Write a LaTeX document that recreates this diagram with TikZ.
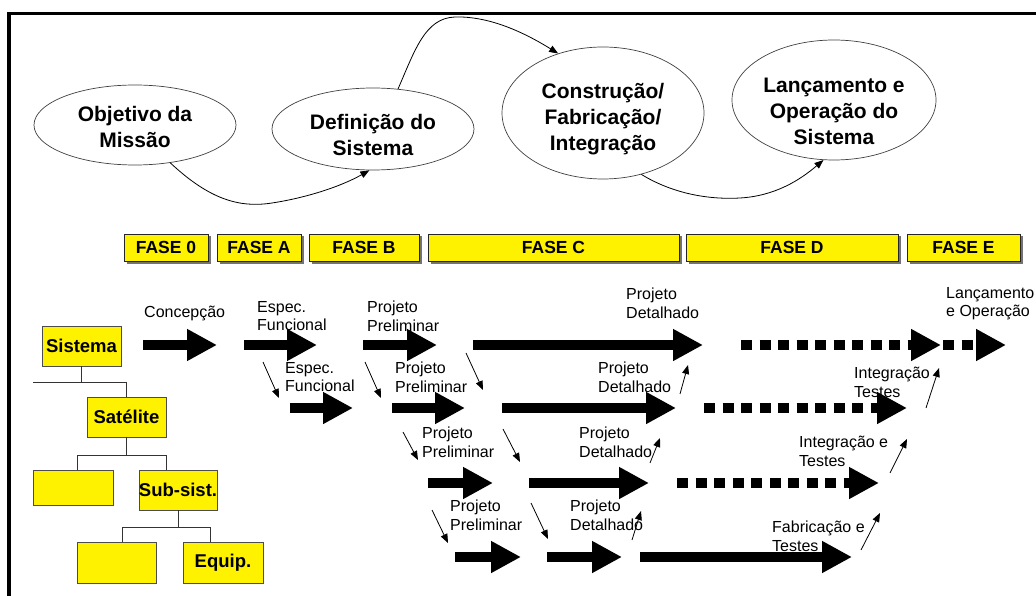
\documentclass[tikz,border=0pt]{standalone}
\usepackage{fontspec}
\setmainfont{Liberation Sans}
\usetikzlibrary{shapes.geometric,arrows.meta,shadows}
\begin{document}
\begin{tikzpicture}[x=1pt,y=-1pt,
  ell/.style={ellipse, draw=black!75, line width=0.7pt, inner sep=0},
  etxt/.style={inner sep=0, align=center, font=\bfseries\fontsize{21}{26}\selectfont},
  phase/.style={draw=black!85, line width=0.8pt, fill=yellow, minimum height=27pt, inner sep=0,
    font=\bfseries\fontsize{17.5}{20}\selectfont,
    drop shadow={shadow xshift=2.5pt, shadow yshift=-2.5pt, fill=black!55, opacity=1}},
  tbox/.style={draw=black!70, line width=0.7pt, fill=yellow, inner sep=0, font=\bfseries\fontsize{18.5}{22}\selectfont},
  lbl/.style={inner sep=0, align=left, anchor=north west, font=\fontsize{16}{18.5}\selectfont},
  big/.style={line width=10pt, -{Triangle[length=30pt,width=30pt]}},
  dots/.style={big, dash pattern=on 11pt off 7.5pt},
  thin/.style={line width=0.8pt, -{Triangle[length=9pt,width=7pt]}},
  tree/.style={line width=0.8pt, black!80},
]
\useasboundingbox (0,0) rectangle (1036,596);
% frame
\draw[line width=3.2pt] (9,596) -- (9,13.5) -- (1036,13.5);

% ellipses
\node[ell, minimum width=202pt, minimum height=80pt] (e1) at (135,125) {};
\node[ell, minimum width=202pt, minimum height=82pt] (e2) at (373,129) {};
\node[ell, minimum width=202pt, minimum height=132pt] (e3) at (603,113) {};
\node[ell, minimum width=204pt, minimum height=120pt] (e4) at (834,100) {};
\node[etxt] (e1t) at ([yshift=-2pt]e1.center) {Objetivo da\\Missão};
\node[etxt] (e2t) at ([yshift=-6pt]e2.center) {Definição do\\Sistema};
\node[etxt] (e3t) at ([yshift=-6pt]e3.center) {Construção/\\Fabricação/\\Integração};
\node[etxt] (e4t) at ([yshift=-11pt]e4.center) {Lançamento e\\Operação do\\Sistema};

\draw[thin] (e1.-47) .. controls (210,200) and (240,208) .. (272,203) .. controls (305,198) and (340,187) .. (e2.-95);
\draw[thin] (e2.58) .. controls (415,50) and (425,18) .. (455,17) .. controls (490,16) and (525,33) .. (e3.127);
\draw[thin] (e3.-58) .. controls (670,192) and (705,200) .. (740,198) .. controls (775,196) and (800,180) .. (e4.-100);

% phases
\node[phase, minimum width=84pt] (f0) at (166,247.5) {FASE 0};
\node[phase, minimum width=84pt] (fa) at (259,247.5) {FASE A};
\node[phase, minimum width=110pt] (fb) at (364,247.5) {FASE B};
\node[phase, minimum width=251pt] (fc) at (553.5,247.5) {FASE C};
\node[phase, minimum width=212pt] (fd) at (792,247.5) {FASE D};
\node[phase, minimum width=113pt] (fe) at (963.5,247.5) {FASE E};

% tree
\node[tbox, minimum width=79pt, minimum height=40pt] (sis) at (81.5,346) {Sistema};
\node[tbox, minimum width=79pt, minimum height=40pt] (sat) at (126.5,417) {Satélite};
\node[tbox, minimum width=80pt, minimum height=35pt] (b1) at (73,487.5) {};
\node[tbox, minimum width=78pt, minimum height=40pt] (sub) at (178,490) {Sub-sist.};
\node[tbox, minimum width=79pt, minimum height=41pt] (b3) at (116.5,562.5) {};
\node[tbox, minimum width=80pt, minimum height=41pt] (eq) at (223,562.5) {Equip.};
\coordinate (j1) at (33,382);
\coordinate (j2a) at (77,455);
\coordinate (j2b) at (166,455);
\coordinate (j3a) at (122,527);
\coordinate (j3b) at (210,527);
\draw[tree] (sis.south) -- (sis.south |- j1);
\draw[tree] (j1) -| (sat.north);
\draw[tree] (sat.south) -- (sat.south |- j2a);
\draw[tree] (b1.north -| j2a) |- (j2b) -- (sub.north -| j2b);
\draw[tree] (sub.south) -- (sub.south |- j3a);
\draw[tree] (b3.north -| j3a) |- (j3b) -- (eq.north -| j3b);

% block arrows
\foreach \n/\a/\b/\y in {a1/143/217/345, a2/244/317/345, a3/363/437/345, a4/473/703/345,
  b1/290/353/408, b2/392/465/408, b3/502/676/408,
  c1/428/493/483, c2/529/649/483,
  d1/455/521/557, d2/547/622/557, d3/640/852/557}{
  \coordinate (\n s) at (\a,\y);
  \coordinate (\n t) at (\b,\y);
  \draw[big] (\n s) -- (\n t);
}
\foreach \n/\a/\b/\y in {a5/741/941/345, a6/943/1006/345, b4/704/907/408, c3/677/879/483}{
  \coordinate (\n s) at (\a,\y);
  \coordinate (\n t) at (\b,\y);
  \draw[dots] (\n s) -- (\n t);
}

% labels
\node[lbl] (l1) at (144,306) {Concepção};
\node[lbl] (l2) at (257,301) {Espec.\\Funcional};
\node[lbl] (l3) at (367,301) {Projeto\\Preliminar};
\node[lbl] (l4) at (626,288) {Projeto\\Detalhado};
\node[lbl] (l5) at (946,287) {Lançamento\\e Operação};
\node[lbl] (l6) at (285,362) {Espec.\\Funcional};
\node[lbl] (l7) at (395,362) {Projeto\\Preliminar};
\node[lbl] (l8) at (598,362) {Projeto\\Detalhado};
\node[lbl] (l9) at (854,367) {Integração\\Testes};
\node[lbl] (l10) at (422,427) {Projeto\\Preliminar};
\node[lbl] (l11) at (579,427) {Projeto\\Detalhado};
\node[lbl] (l12) at (799,436) {Integração e\\Testes};
\node[lbl] (l13) at (450,500) {Projeto\\Preliminar};
\node[lbl] (l14) at (570,500) {Projeto\\Detalhado};
\node[lbl] (l15) at (772,521) {Fabricação e\\Testes};

% thin arrows
\foreach \n/\xa/\ya/\xb/\yb in {t1/263/362/279/398, t2/365/362/381/398, t3/466/353/483/390,
  t4/680/394/688/365, t5/926/408/939/368, t6/403/432/418/460, t7/503/429/520/462,
  t8/650/463/660/438, t9/890/473/907/439, t10/432/510/448/543, t11/531/503/548/539,
  t12/632/540/641/511, t13/861/550/880/513}{
  \coordinate (\n s) at (\xa,\ya);
  \coordinate (\n t) at (\xb,\yb);
  \draw[thin] (\n s) -- (\n t);
}
\end{tikzpicture}
\end{document}
